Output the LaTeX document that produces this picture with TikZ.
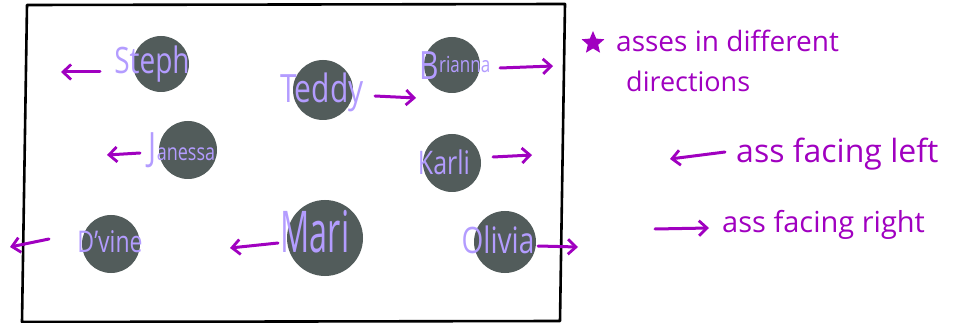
\documentclass[tikz,border=0pt]{standalone}
\usepackage{fontspec}
\setmainfont{Open Sans}
\usetikzlibrary{arrows.meta,shapes.geometric}
\definecolor{blob}{HTML}{525C5B}
\definecolor{namec}{HTML}{B39CFF}
\definecolor{ink}{HTML}{A000C0}
\newcommand{\nm}[2]{\scalebox{1}[1.3]{\fontsize{#1}{#1}\selectfont #2}}
\begin{document}
\begin{tikzpicture}[x=1pt,y=-1pt,
  blobnode/.style={circle,fill=blob,inner sep=0pt,minimum size=#1},
  namenode/.style={text=namec,inner sep=0pt},
  dirarrow/.style={draw=ink,line width=3pt,line cap=round,-{Straight Barb[length=8pt,width=15pt,line width=2.8pt]}},
  legend/.style={text=ink,inner sep=0pt,anchor=base west,font=\fontsize{25}{30}\selectfont}]
\useasboundingbox (0,0) rectangle (953,323);
\draw[line width=2.6pt,line join=round] (27,5) -- (565,4) -- (560,321) -- (22,322) -- cycle;
% blobs
\node[blobnode=56pt] (bSteph) at (161,64) {};
\node[blobnode=60pt] (bTeddy) at (323,90) {};
\node[blobnode=56pt] (bBrianna) at (452,65) {};
\node[blobnode=58pt] (bJanessa) at (188,150) {};
\node[blobnode=58pt] (bKarli) at (452,163) {};
\node[blobnode=58pt] (bDvine) at (111,244) {};
\node[blobnode=76pt] (bMari) at (325,238) {};
\node[blobnode=62pt] (bOlivia) at (505,242) {};
% names
\node[namenode] (nSteph) at (152,64) {\nm{28}{Steph}};
\node[namenode] (nTeddy) at (322,92) {\nm{30}{Teddy}};
\node[namenode] (nBrianna) at (455,66) {\scalebox{1}[1.3]{\fontsize{30}{30}\selectfont B\fontsize{17}{17}\selectfont\raisebox{6pt}{rianna}}};
\node[namenode] (nJanessa) at (182,150) {\scalebox{1}[1.3]{\fontsize{30}{30}\selectfont J\fontsize{18}{18}\selectfont anessa}};
\node[namenode] (nKarli) at (444,162) {\nm{25}{Karli}};
\node[namenode] (nDvine) at (110,242) {\nm{23}{D'vine}};
\node[namenode] (nMari) at (315,232) {\scalebox{0.9}[1.6]{\fontsize{36}{36}\selectfont Mari}};
\node[namenode] (nOlivia) at (498,240) {\nm{28}{Olivia}};
% arrow ends
\coordinate (sS) at (100,72); \coordinate (eS) at (61,72);
\coordinate (sT) at (375,96); \coordinate (eT) at (416,98);
\coordinate (sB) at (500,68); \coordinate (eB) at (553,66);
\coordinate (sJ) at (140,153); \coordinate (eJ) at (107,155);
\coordinate (sK) at (493,157); \coordinate (eK) at (532,155);
\coordinate (sD) at (49,239); \coordinate (eD) at (10,247);
\coordinate (sM) at (278,243); \coordinate (eM) at (230,248);
\coordinate (sO) at (538,246); \coordinate (eO) at (578,247);
\draw[dirarrow] (sS) -- (eS);
\draw[dirarrow] (sT) -- (eT);
\draw[dirarrow] (sB) -- (eB);
\draw[dirarrow] (sJ) -- (eJ);
\draw[dirarrow] (sK) -- (eK);
\draw[dirarrow] (sD) -- (eD);
\draw[dirarrow] (sM) -- (eM);
\draw[dirarrow] (sO) -- (eO);
% legend
\node[star,star points=5,star point ratio=2.2,fill=ink,minimum size=24pt,inner sep=0pt] (star) at (593,43) {};
\node[legend,font=\fontsize{28}{30}\selectfont] (l1) at (616,52) {asses in different};
\node[legend,font=\fontsize{27}{30}\selectfont] (l2) at (626,92) {directions};
\node[legend,font=\fontsize{32}{34}\selectfont] (l3) at (736,163) {ass facing left};
\node[legend,font=\fontsize{29}{32}\selectfont] (l4) at (722,233) {ass facing right};
\coordinate (sL) at (725,152); \coordinate (eL) at (670,159);
\coordinate (sR) at (655,229); \coordinate (eR) at (709,228);
\draw[dirarrow] (sL) -- (eL);
\draw[dirarrow] (sR) -- (eR);
\end{tikzpicture}
\end{document}
